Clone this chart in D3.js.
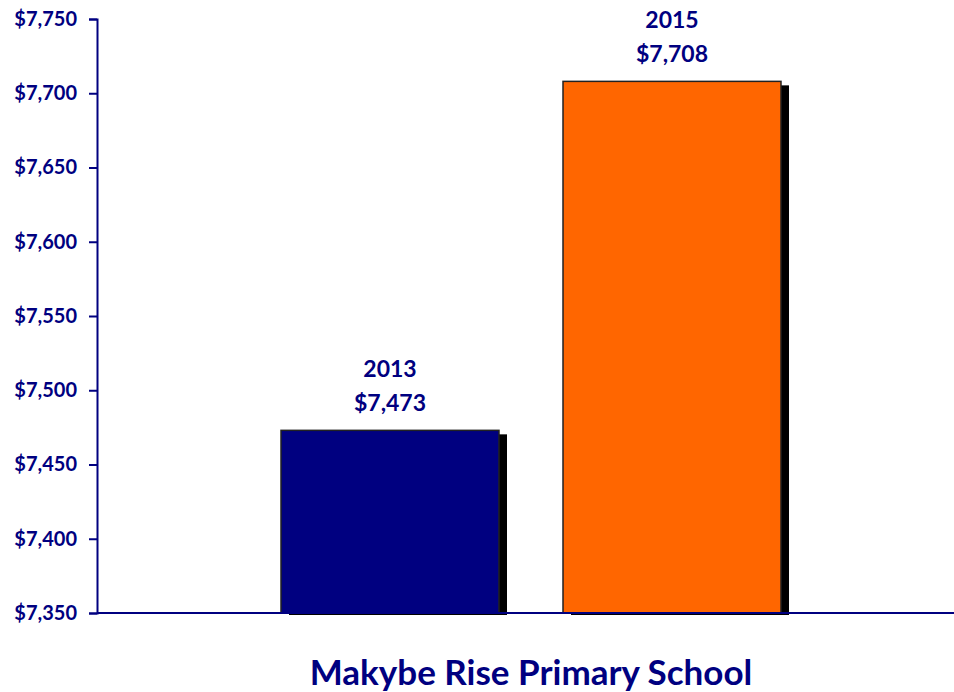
<!DOCTYPE html>
<html lang="en">
<head>
<meta charset="UTF-8">
<title>Makybe Rise Primary School</title>
<script src="https://cdn.jsdelivr.net/npm/d3@7"></script>
<style>
    body { margin: 0; background: #fff; }
    svg text { font-family: Lato, "Open Sans", sans-serif; font-weight: bold; fill: #000080; }
</style>
</head>
<body>
<svg id="chart"></svg>
<script>
    const years = ["2013", "2015"];
    const values = [7473, 7708];
    const barColors = ["#000080", "#ff6600"];
    const tickValues = [7350, 7400, 7450, 7500, 7550, 7600, 7650, 7700, 7750];
    const title = "Makybe Rise Primary School";

    const width = 954, height = 692;
    const axisX = 97, axisTop = 19, axisBottom = 613;

    const svg = d3.select("#chart").attr("width", width).attr("height", height);

    const y = d3.scaleLinear().domain([7350, 7750]).range([axisBottom, axisTop]);
    const x = d3.scaleBand().domain(years).range([281, 781]).paddingInner(64 / 282);

    const data = years.map((yr, i) => ({ year: yr, value: values[i], color: barColors[i] }));
    const fmt = d3.format("$,");

    // drop shadows behind the bars
    svg.selectAll("rect.shadow").data(data).enter().append("rect")
        .attr("class", "shadow")
        .attr("x", d => x(d.year) + 8)
        .attr("y", d => y(d.value) + 4)
        .attr("width", x.bandwidth())
        .attr("height", d => axisBottom - y(d.value) - 2)
        .attr("fill", "#000");

    svg.selectAll("rect.bar").data(data).enter().append("rect")
        .attr("class", "bar")
        .attr("x", d => x(d.year))
        .attr("y", d => y(d.value))
        .attr("width", x.bandwidth())
        .attr("height", d => axisBottom - y(d.value))
        .attr("fill", d => d.color)
        .attr("stroke", "#222")
        .attr("stroke-width", 1.5);

    const yAxis = svg.append("g")
        .attr("transform", `translate(${axisX},0)`)
        .call(d3.axisLeft(y).tickValues(tickValues).tickFormat(fmt).tickSize(8).tickPadding(12));
    yAxis.select(".domain").attr("stroke", "#000080").attr("stroke-width", 2);
    yAxis.selectAll(".tick line").attr("stroke", "#000080").attr("stroke-width", 2);
    yAxis.selectAll(".tick text").attr("font-size", 20).attr("fill", "#000080");

    svg.append("line")
        .attr("x1", axisX).attr("x2", width)
        .attr("y1", axisBottom).attr("y2", axisBottom)
        .attr("stroke", "#000080").attr("stroke-width", 2);

    const lab = svg.selectAll("g.lab").data(data).enter().append("g")
        .attr("class", "lab")
        .attr("transform", d => `translate(${x(d.year) + x.bandwidth() / 2},${y(d.value)})`);
    lab.append("text").attr("text-anchor", "middle").attr("y", -53).attr("font-size", 23)
        .text(d => d.year);
    lab.append("text").attr("text-anchor", "middle").attr("y", -19).attr("font-size", 23)
        .text(d => fmt(d.value));

    svg.append("text")
        .attr("x", 531).attr("y", 685)
        .attr("text-anchor", "middle")
        .attr("font-size", 35)
        .text(title);
</script>
</body>
</html>
